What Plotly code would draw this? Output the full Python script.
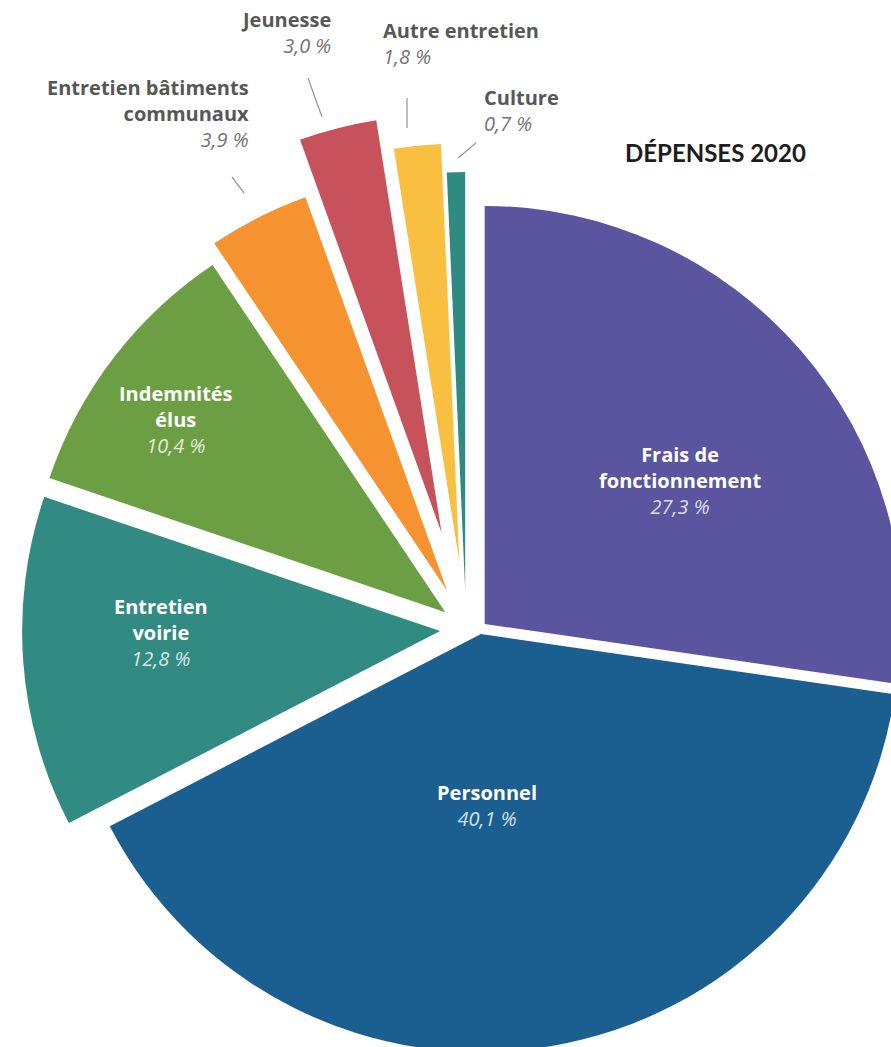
import math
import plotly.graph_objects as go

# ---------------- data ----------------
labels = ["Frais de fonctionnement", "Personnel", "Entretien voirie", "Indemnités élus",
          "Entretien bâtiments communaux", "Jeunesse", "Autre entretien", "Culture"]
display_labels = ["Frais de<br>fonctionnement", "Personnel", "Entretien<br>voirie", "Indemnités<br>élus",
                  "Entretien bâtiments<br>communaux", "Jeunesse", "Autre entretien", "Culture"]
values = [27.3, 40.1, 12.8, 10.4, 3.9, 3.0, 1.8, 0.7]
title_text = "DÉPENSES 2020"

# ---------------- style ----------------
colors = ["#5a559e", "#1b5f91", "#328b82", "#6c9f43", "#f69331", "#c8525b", "#f9bf40", "#2e8b82"]
pull_px = [6.2, 6.2, 40, 26, 42, 98, 66.7, 38]      # explode distance of each slice (px)
layer = [0, 0, 0, 1, 1, 1, 1, 1]                      # which pie layer draws the slice
layer_shift = [0, -14]                                # horizontal offset of each layer centre (px)

W, H = 1100, 1200          # figure size (larger than the window, clipped)
OX = 60                    # figure shifted left by this many px in the page
CX, CY = 480, 628          # pie centre in window pixels
R = 418                    # pie radius (px)
FONT = "Open Sans"
TRANSPARENT = "rgba(0,0,0,0)"


def px(x):
    return (x + OX) / W


def py(y):
    return 1 - y / H


pct_text = [f"{v:.1f}".replace(".", ",") + " %" for v in values]
fig = go.Figure()
for L in (0, 1):
    pulls = [pull_px[i] / R if layer[i] == L else 0 for i in range(len(values))]
    cols = [colors[i] if layer[i] == L else TRANSPARENT for i in range(len(values))]
    half = R * (1 + max(pulls))
    cxf = CX + layer_shift[L] + OX
    fig.add_trace(go.Pie(
        labels=labels, values=values, sort=False, direction="clockwise", rotation=0,
        pull=pulls, textinfo="none", hoverinfo="label+percent",
        marker=dict(colors=cols, line=dict(color="white", width=0)),
        domain=dict(x=[(cxf - half) / W, (cxf + half) / W],
                    y=[(H - CY - half) / H, (H - CY + half) / H]),
        showlegend=False,
    ))

# mid angles of slices (deg, clockwise from 12 o'clock)
total = sum(values)
mids = []
cum = 0
for v in values:
    mids.append((cum + v / 2) / total * 360)
    cum += v


def polar(x0, y0, ang, dist):
    a = math.radians(ang)
    return x0 + dist * math.sin(a), y0 - dist * math.cos(a)


annotations = []
# inside labels: (radius fraction, angle tweak) measured from each slice's apex
inside_pos = {0: (0.580, 4.45), 1: (0.410, 7.5), 2: (0.668, 4.1), 3: (0.793, -1.8)}
for i, (rf, dth) in inside_pos.items():
    ax, ay = polar(CX + layer_shift[layer[i]], CY, mids[i], pull_px[i])
    x, y = polar(ax, ay, mids[i] + dth, rf * R)
    annotations.append(dict(
        x=px(x), y=py(y), xref="paper", yref="paper", xanchor="center", yanchor="middle",
        showarrow=False, align="center",
        text=f"<b>{display_labels[i]}</b><br><i><span style='color:rgba(255,255,255,0.82)'>{pct_text[i]}</span></i>",
        font=dict(family=FONT, size=20, color="white"),
    ))

# outside labels (anchor x, centre y, side)
outside_pos = {4: (251, 114, "right"), 5: (333, 33, "right"), 6: (381, 44, "left"), 7: (482, 110, "left")}
for i, (x, y, side) in outside_pos.items():
    annotations.append(dict(
        x=px(x), y=py(y), xref="paper", yref="paper", xanchor=side, yanchor="middle",
        showarrow=False, align=side,
        text=f"<b>{display_labels[i]}</b><br><i><span style='color:#747474'>{pct_text[i]}</span></i>",
        font=dict(family=FONT, size=20, color="#575757"),
    ))

annotations.append(dict(
    x=px(715), y=py(153), xref="paper", yref="paper", xanchor="center", yanchor="middle",
    showarrow=False, text=f"<b>{title_text}</b>",
    font=dict(family="Lato", size=24, color="#1d1d1d"),
))

leaders = [((244, 193), (232, 177)), ((322, 117), (308, 78)),
           ((407, 128), (407, 98)), ((458, 158), (476, 143))]
shapes = [dict(type="line", xref="paper", yref="paper",
               x0=px(a[0]), y0=py(a[1]), x1=px(b[0]), y1=py(b[1]),
               line=dict(color="#9a9a9a", width=1.3)) for a, b in leaders]

fig.update_layout(
    width=W, height=H, margin=dict(l=0, r=0, t=0, b=0),
    paper_bgcolor="white", plot_bgcolor="white",
    annotations=annotations, shapes=shapes, showlegend=False,
)

post = ("document.documentElement.style.overflow='hidden';"
        "document.body.style.margin='0';document.body.style.overflow='hidden';"
        "var d=document.getElementById('chart');d.style.marginLeft='-%dpx';" % OX)
fig.write_html("out.html", div_id="chart", post_script=post)
